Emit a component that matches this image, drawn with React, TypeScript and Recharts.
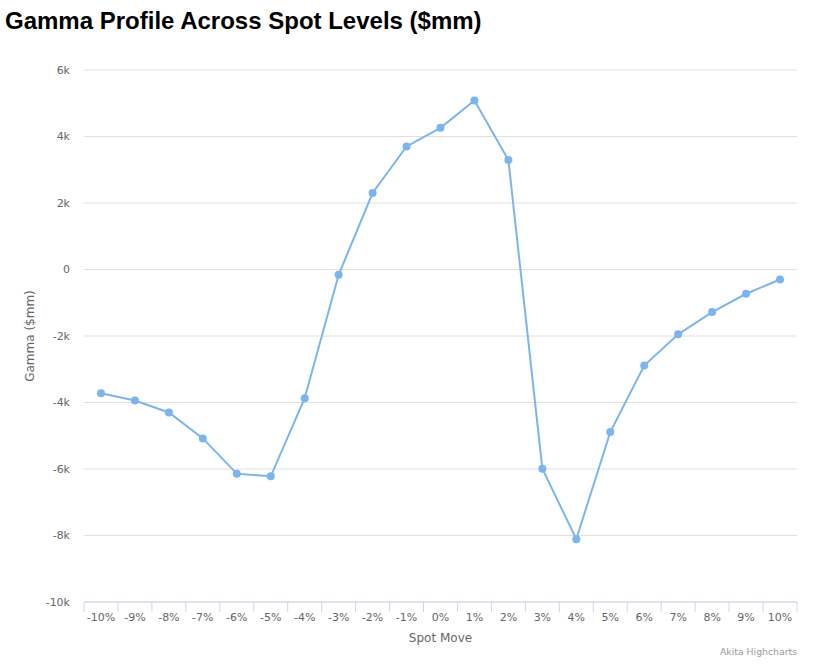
import { LineChart, Line, XAxis, YAxis, CartesianGrid, Label } from "recharts";

const spotMoves = [
  "-10%", "-9%", "-8%", "-7%", "-6%", "-5%", "-4%", "-3%", "-2%", "-1%", "0%",
  "1%", "2%", "3%", "4%", "5%", "6%", "7%", "8%", "9%", "10%",
];

// gamma in $mm
const gammaValues = [
  -3720, -3940, -4300, -5080, -6140, -6220, -3870, -160, 2300, 3700, 4260,
  5080, 3290, -5990, -8110, -4890, -2890, -1950, -1280, -730, -300,
];

const yTicks = [-10000, -8000, -6000, -4000, -2000, 0, 2000, 4000, 6000];

const data = spotMoves.map((name, i) => ({ name, gamma: gammaValues[i] }));

const FONT = "'DejaVu Sans', Verdana, sans-serif";
const AXIS_COLOR = "#ccd6eb";
const LABEL_COLOR = "#666666";

const formatK = (v: number) => (v === 0 ? "0" : `${v / 1000}k`);

// Highcharts-style tick: marks sit between categories, label in the middle
const XTick = (props: any) => {
  const { x, y, payload, index, visibleTicksCount } = props;
  const half = payload?.offset || 17;
  const isLast = index === visibleTicksCount - 1;
  return (
    <g>
      <line x1={x - half} y1={y} x2={x - half} y2={y + 10} stroke={AXIS_COLOR} strokeWidth={1} />
      {isLast && (
        <line x1={x + half} y1={y} x2={x + half} y2={y + 10} stroke={AXIS_COLOR} strokeWidth={1} />
      )}
      <text x={x} y={y + 19} textAnchor="middle" fill={LABEL_COLOR} fontSize={11} fontFamily={FONT}>
        {payload.value}
      </text>
    </g>
  );
};

export default function App() {
  return (
    <div style={{ position: "absolute", left: 0, top: 0, width: 827, height: 668, background: "#fff" }}>
      <div
        style={{
          position: "absolute",
          left: 5,
          top: 7,
          fontFamily: "'Liberation Sans', Arial, sans-serif",
          fontWeight: "bold",
          fontSize: 24,
          color: "#000",
          whiteSpace: "nowrap",
        }}
      >
        Gamma Profile Across Spot Levels ($mm)
      </div>
      <LineChart
        width={827}
        height={668}
        data={data}
        margin={{ top: 70, right: 30, bottom: 0, left: 0 }}
        style={{ position: "absolute", left: 0, top: 0 }}
      >
        <CartesianGrid vertical={false} stroke="#e0e0e0" />
        <XAxis
          dataKey="name"
          scale="band"
          height={66}
          axisLine={{ stroke: AXIS_COLOR }}
          tickLine={false}
          tickSize={0}
          tickMargin={0}
          interval={0}
          tick={<XTick />}
        >
          <Label
            value="Spot Move"
            position="insideTop"
            offset={31}
            fill={LABEL_COLOR}
            fontSize={12}
            fontFamily={FONT}
          />
        </XAxis>
        <YAxis
          width={84}
          domain={[-10000, 6000]}
          ticks={yTicks}
          tickFormatter={formatK}
          axisLine={false}
          tickLine={false}
          tickSize={0}
          tickMargin={14}
          tick={{ fill: LABEL_COLOR, fontSize: 11, fontFamily: FONT }}
        >
          <Label
            content={({ viewBox }: any) => {
              const cx = 30;
              const cy = viewBox.y + viewBox.height / 2;
              return (
                <text
                  x={cx}
                  y={cy}
                  transform={`rotate(-90, ${cx}, ${cy})`}
                  textAnchor="middle"
                  dominantBaseline="central"
                  fill={LABEL_COLOR}
                  fontSize={12}
                  fontFamily={FONT}
                >
                  Gamma ($mm)
                </text>
              );
            }}
          />
        </YAxis>
        <Line
          type="linear"
          dataKey="gamma"
          stroke="#7cb5ec"
          strokeWidth={2}
          dot={{ r: 4, fill: "#7cb5ec", stroke: "none" }}
          activeDot={false}
          isAnimationActive={false}
        />
      </LineChart>
      <div
        style={{
          position: "absolute",
          right: 30,
          top: 646,
          fontFamily: FONT,
          fontSize: 9.3,
          color: "#999999",
        }}
      >
        Akita Highcharts
      </div>
    </div>
  );
}
